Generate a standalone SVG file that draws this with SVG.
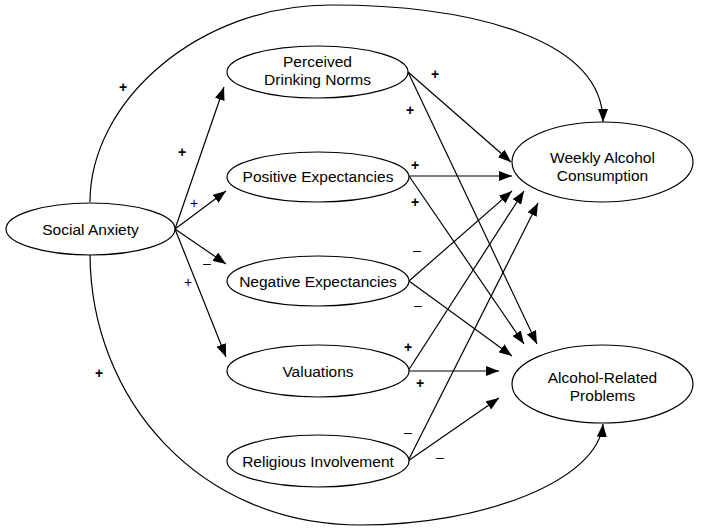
<svg xmlns="http://www.w3.org/2000/svg" width="701" height="531" viewBox="0 0 701 531">
<style>
.node ellipse{fill:#fff;stroke:#000;stroke-width:1.2}
.node text{font-family:"Liberation Sans",Arial,sans-serif;font-size:15.5px;fill:#000;text-anchor:middle}
.edges path,.edges line{fill:none;stroke:#000;stroke-width:1.2;marker-end:url(#ah)}
.lbl{font-family:"Liberation Sans",Arial,sans-serif;font-size:14px;fill:#000;text-anchor:middle}
.b{font-weight:bold}
</style>
<defs>
<marker id="ah" markerUnits="userSpaceOnUse" viewBox="0 0 13 10" refX="13" refY="5" markerWidth="13" markerHeight="10" orient="auto">
<path d="M0,0 L13,5 L0,10 Z" fill="#000"/>
</marker>
</defs>
<rect width="701" height="531" fill="#fff"/>
<g class="edges">
<path d="M90,202 C90,100 200,5 330,5 C475,5 603,40 603,122"/>
<path d="M90,253 C90,400 200,525 360,525 C485,525 598,480 603,424"/>
<line x1="175" y1="229" x2="224" y2="87"/>
<line x1="175" y1="229" x2="226" y2="191"/>
<line x1="175" y1="229" x2="226" y2="264"/>
<line x1="175" y1="229" x2="226" y2="357"/>
<line x1="408" y1="72" x2="511" y2="162"/>
<line x1="408" y1="72" x2="537" y2="344"/>
<line x1="409" y1="176" x2="512" y2="176"/>
<line x1="409" y1="176" x2="524" y2="344"/>
<line x1="409" y1="281" x2="512" y2="191"/>
<line x1="409" y1="281" x2="512" y2="356"/>
<line x1="408" y1="371" x2="524" y2="191"/>
<line x1="408" y1="371" x2="499" y2="371"/>
<line x1="408" y1="461" x2="538" y2="203"/>
<line x1="408" y1="461" x2="499" y2="398"/>
</g>
<g id="social-anxiety" class="node"><ellipse cx="90.5" cy="229" rx="84.5" ry="26"/><text x="90.5" y="235">Social Anxiety</text></g>
<g id="perceived-drinking-norms" class="node"><ellipse cx="317.5" cy="72" rx="90.5" ry="26"/><text x="317.5" y="67">Perceived</text><text x="317.5" y="85">Drinking Norms</text></g>
<g id="positive-expectancies" class="node"><ellipse cx="318" cy="177" rx="91" ry="25"/><text x="318" y="182">Positive Expectancies</text></g>
<g id="negative-expectancies" class="node"><ellipse cx="318" cy="281" rx="91" ry="25"/><text x="318" y="287">Negative Expectancies</text></g>
<g id="valuations" class="node"><ellipse cx="318" cy="371" rx="91" ry="26"/><text x="318" y="377">Valuations</text></g>
<g id="religious-involvement" class="node"><ellipse cx="318" cy="461" rx="91" ry="26"/><text x="318" y="467">Religious Involvement</text></g>
<g id="weekly-alcohol-consumption" class="node"><ellipse cx="602.5" cy="162" rx="90.5" ry="40"/><text x="602.5" y="163">Weekly Alcohol</text><text x="602.5" y="181">Consumption</text></g>
<g id="alcohol-related-problems" class="node"><ellipse cx="602.5" cy="384" rx="90.5" ry="39"/><text x="602.5" y="383">Alcohol-Related</text><text x="602.5" y="401">Problems</text></g>
<g id="labels">
<text class="lbl b" x="123" y="92">+</text>
<text class="lbl b" x="182" y="157">+</text>
<text class="lbl" x="194" y="208">+</text>
<text class="lbl" x="207" y="268">–</text>
<text class="lbl" x="188" y="287">+</text>
<text class="lbl b" x="99" y="378">+</text>
<text class="lbl b" x="435" y="79">+</text>
<text class="lbl b" x="410" y="115">+</text>
<text class="lbl b" x="415" y="170">+</text>
<text class="lbl b" x="415" y="207">+</text>
<text class="lbl" x="417" y="255">–</text>
<text class="lbl" x="418" y="310">–</text>
<text class="lbl b" x="408" y="352">+</text>
<text class="lbl b" x="420" y="388">+</text>
<text class="lbl" x="408" y="437">–</text>
<text class="lbl" x="440" y="462">–</text>
</g>
</svg>
